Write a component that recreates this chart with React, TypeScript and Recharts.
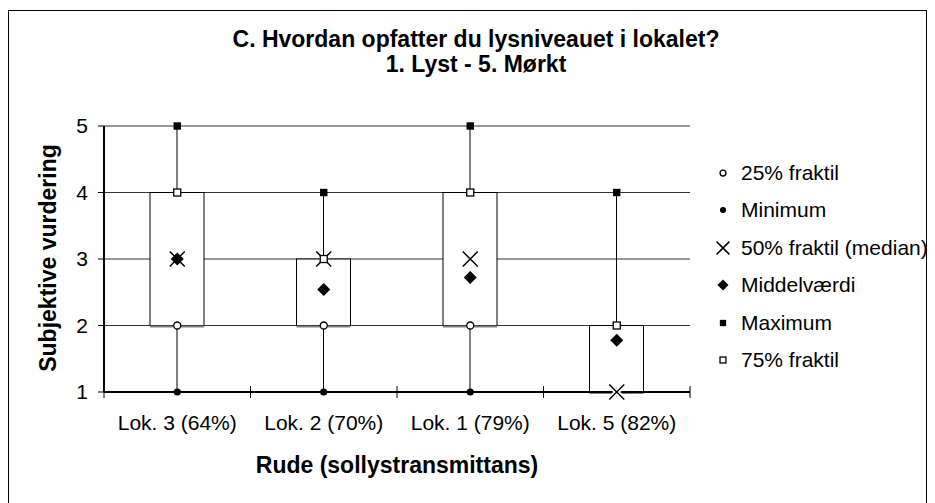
import { ComposedChart, Bar, Scatter, XAxis, YAxis, CartesianGrid } from 'recharts';

const categories = ['Lok. 3 (64%)', 'Lok. 2 (70%)', 'Lok. 1 (79%)', 'Lok. 5 (82%)'];
const minimum = [1, 1, 1, 1];
const q25 = [2, 2, 2, 1];
const median = [3, 3, 3, 1];
const mean = [3.0, 2.54, 2.72, 1.78];
const q75 = [4, 3, 4, 2];
const maximum = [5, 4, 5, 4];
const yTicks = [1, 2, 3, 4, 5];

// legend order as in the reference
const seriesKeys = ['q1', 'min', 'median', 'mean', 'max', 'q3'];
const seriesNames: Record<string, string> = {
  q1: '25% fraktil',
  min: 'Minimum',
  median: '50% fraktil (median)',
  mean: 'Middelværdi',
  max: 'Maximum',
  q3: '75% fraktil',
};

const data = categories.map((name, i) => ({
  name,
  min: minimum[i],
  q1: q25[i],
  median: median[i],
  mean: mean[i],
  q3: q75[i],
  max: maximum[i],
  whisker: [minimum[i], maximum[i]],
  box: [q25[i], q75[i]],
}));

const FONT = '"Liberation Sans", Arial, sans-serif';
const CHART_W = 935;
const CHART_H = 503;
const PLOT_LEFT = 104;
const PLOT_RIGHT = 690;
const BAND = (PLOT_RIGHT - PLOT_LEFT) / categories.length;

function Marker({ kind, cx, cy, s = 1 }: { kind: string; cx: number; cy: number; s?: number }) {
  if (cx == null || cy == null) return null;
  switch (kind) {
    case 'min':
      return <circle cx={cx} cy={cy} r={3.6 * s} fill="#000" />;
    case 'q1':
      return <circle cx={cx} cy={cy} r={3.5 * s} fill="#fff" stroke="#000" strokeWidth={1.3} />;
    case 'max':
      return <rect x={cx - 3.7 * s} y={cy - 3.7 * s} width={7.4 * s} height={7.4 * s} fill="#000" />;
    case 'q3':
      return (
        <rect x={cx - 3.5 * s} y={cy - 3.5 * s} width={7 * s} height={7 * s} fill="#fff" stroke="#000" strokeWidth={1.3} />
      );
    case 'mean': {
      const d = 6.5 * s;
      return <path d={`M${cx},${cy - d}L${cx + d},${cy}L${cx},${cy + d}L${cx - d},${cy}Z`} fill="#000" />;
    }
    case 'median': {
      const d = 7.5 * s;
      const p = `M${cx - d},${cy - d}L${cx + d},${cy + d}M${cx - d},${cy + d}L${cx + d},${cy - d}`;
      return (
        <g>
          {s === 1 && <path d={p} stroke="#fff" strokeWidth={5} />}
          <path d={p} stroke="#000" strokeWidth={1.5} />
        </g>
      );
    }
    default:
      return null;
  }
}

const WhiskerShape = (props: any) => {
  const { x, y, width, height } = props;
  const cx = x + width / 2;
  return <line x1={cx} x2={cx} y1={y} y2={y + height} stroke="#000" strokeWidth={1} />;
};

const BoxShape = (props: any) => {
  const { x, y, width, height } = props;
  return (
    <g>
      <rect x={x} y={y} width={width} height={height} fill="#fff" stroke="#000" strokeWidth={1} />
      <line x1={x} x2={x + width} y1={y + height + 1} y2={y + height + 1} stroke="#808080" strokeWidth={2} />
    </g>
  );
};

const XTick = (props: any) => {
  const { x, y, payload, index } = props;
  return (
    <g>
      <line x1={x - BAND / 2} x2={x - BAND / 2} y1={y - 6} y2={y + 6} stroke="#000" />
      {index === categories.length - 1 && (
        <line x1={x + BAND / 2} x2={x + BAND / 2} y1={y - 6} y2={y + 6} stroke="#000" />
      )}
      <text x={x} y={y + 38} textAnchor="middle" fontSize={21} fill="#000" fontFamily={FONT}>
        {payload.value}
      </text>
    </g>
  );
};

function LegendBox() {
  return (
    <div
      style={{
        position: 'absolute',
        left: 710,
        top: 154,
        fontFamily: FONT,
        fontSize: 21,
        color: '#000',
      }}
    >
      {seriesKeys.map((k) => (
        <div key={k} style={{ display: 'flex', alignItems: 'center', height: 37.5 }}>
          <svg width={26} height={20} style={{ marginRight: 5 }}>
            <Marker kind={k} cx={13} cy={10} s={0.85} />
          </svg>
          <span>{seriesNames[k]}</span>
        </div>
      ))}
    </div>
  );
}

export default function App() {
  return (
    <div
      style={{
        position: 'absolute',
        left: 0,
        top: 0,
        width: CHART_W,
        height: CHART_H,
        overflow: 'hidden',
        background: '#fff',
        fontFamily: FONT,
      }}
    >
      <div
        style={{
          position: 'absolute',
          left: 8,
          top: 10,
          width: 917,
          height: 520,
          border: '1.5px solid #000',
        }}
      />
      <div
        style={{
          position: 'absolute',
          left: 0,
          top: 27,
          width: 2 * 476,
          textAlign: 'center',
          fontWeight: 'bold',
          fontSize: 23,
          lineHeight: '25px',
        }}
      >
        C. Hvordan opfatter du lysniveauet i lokalet?
        <br />
        1. Lyst - 5. Mørkt
      </div>
      <ComposedChart
        width={CHART_W}
        height={CHART_H}
        data={data}
        margin={{ top: 126, right: CHART_W - PLOT_RIGHT, left: 0, bottom: 81 }}
        style={{ fontFamily: FONT }}
      >
        <CartesianGrid vertical={false} stroke="#333" strokeWidth={1} />
        <XAxis
          dataKey="name"
          xAxisId="main"
          height={30}
          axisLine={{ stroke: '#000', strokeWidth: 2 }}
          tickLine={false}
          tickSize={0}
          tickMargin={0}
          tick={<XTick />}
          interval={0}
        />
        <XAxis
          dataKey="name"
          xAxisId="top"
          orientation="top"
          height={0}
          tick={false}
          tickLine={false}
          axisLine={{ stroke: '#000', strokeWidth: 2 }}
        />
        <XAxis dataKey="name" xAxisId="w" hide />
        <YAxis
          domain={[1, 5]}
          ticks={yTicks}
          width={PLOT_LEFT}
          axisLine={{ stroke: '#000', strokeWidth: 2 }}
          tickLine={{ stroke: '#000' }}
          tickSize={6}
          tickMargin={10}
          tick={{ fill: '#000', fontSize: 21 }}
        />
        <YAxis
          yAxisId="r"
          orientation="right"
          width={0}
          domain={[1, 5]}
          tick={false}
          tickLine={false}
          axisLine={{ stroke: '#000', strokeWidth: 2 }}
        />
        <Bar
          dataKey="whisker"
          xAxisId="w"
          barSize={54}
          shape={<WhiskerShape />}
          legendType="none"
          isAnimationActive={false}
        />
        <Bar
          dataKey="box"
          xAxisId="main"
          barSize={54}
          shape={<BoxShape />}
          legendType="none"
          isAnimationActive={false}
        />
        {seriesKeys.map((k) => (
          <Scatter
            key={k}
            dataKey={k}
            xAxisId="main"
            name={seriesNames[k]}
            isAnimationActive={false}
            shape={(p: any) => <Marker kind={k} cx={p.cx} cy={p.cy} />}
          />
        ))}
      </ComposedChart>
      <LegendBox />
      <div
        style={{
          position: 'absolute',
          left: 0,
          top: 452,
          width: 2 * 397,
          textAlign: 'center',
          fontWeight: 'bold',
          fontSize: 23,
        }}
      >
        Rude (sollystransmittans)
      </div>
      <div
        style={{
          position: 'absolute',
          left: 48 - 150,
          top: 258 - 14,
          width: 300,
          height: 28,
          lineHeight: '28px',
          textAlign: 'center',
          fontWeight: 'bold',
          fontSize: 23,
          transform: 'rotate(-90deg)',
        }}
      >
        Subjektive vurdering
      </div>
    </div>
  );
}
